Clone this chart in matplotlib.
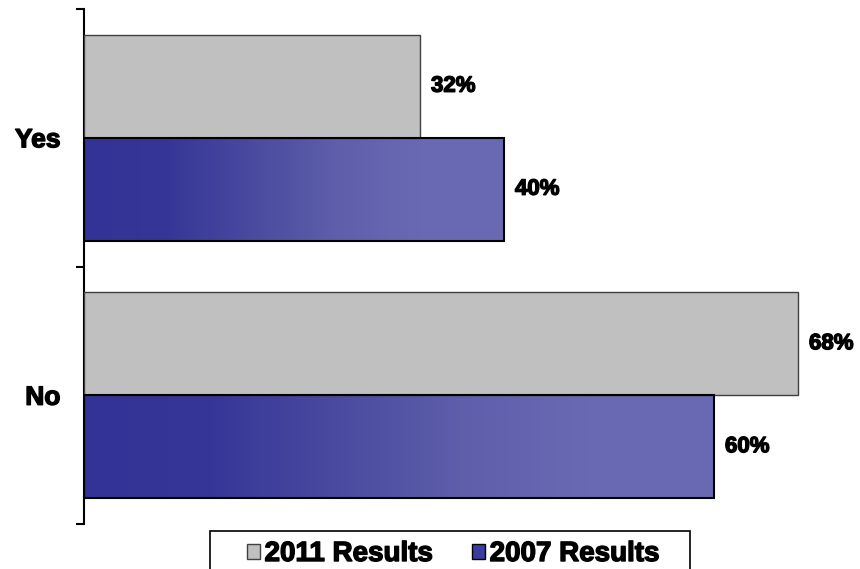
import numpy as np
import matplotlib
matplotlib.use('Agg')
import matplotlib.pyplot as plt
import matplotlib.patheffects as pe
from matplotlib.colors import LinearSegmentedColormap
from matplotlib.patches import Patch, Rectangle

categories = ['Yes', 'No']
results_2011 = [32, 68]
results_2007 = [40, 60]
series_labels = ['2011 Results', '2007 Results']

plt.rcParams['font.family'] = ['Liberation Sans', 'DejaVu Sans']
plt.rcParams['font.weight'] = 'bold'

heavy = [pe.withStroke(linewidth=1.0, foreground='black')]

fig = plt.figure(figsize=(8.6, 5.69), dpi=100)
ax = fig.add_axes([84 / 860, 1 - 524 / 569, 735 / 860, 515 / 569])

ypos = np.arange(len(categories))[::-1]  # Yes on top
h = 0.4

gray_bars = ax.barh(ypos + h / 2, results_2011, height=h, color='#c0c0c0',
                    edgecolor='#404040', linewidth=1.0, zorder=3)
blue_bars = ax.barh(ypos - h / 2, results_2007, height=h, facecolor='none',
                    edgecolor='black', linewidth=1.5, zorder=4)

# horizontal gradient fill for the 2007 bars
blue_cmap = LinearSegmentedColormap.from_list(
    'blues', ['#333397', '#363698', '#4a4aa0', '#5e5eab', '#6969b3', '#6a6ab4'])
grad = np.linspace(0, 1, 256).reshape(1, -1)
for bar in blue_bars:
    x0, y0 = bar.get_x(), bar.get_y()
    im = ax.imshow(grad, cmap=blue_cmap, aspect='auto', zorder=2,
                   extent=(x0, x0 + bar.get_width(), y0, y0 + bar.get_height()))
    im.set_clip_path(bar)

for bars, vals in ((gray_bars, results_2011), (blue_bars, results_2007)):
    for bar, v in zip(bars, vals):
        ax.annotate(f'{v}%', (bar.get_width(), bar.get_y() + bar.get_height() / 2),
                    xytext=(11, 0), textcoords='offset pixels', va='center', ha='left',
                    fontsize=16, fontweight='bold', annotation_clip=False,
                    path_effects=heavy)

ax.set_xlim(0, 70)
ax.set_ylim(-0.5, 1.5)

for s in ('top', 'right', 'bottom'):
    ax.spines[s].set_visible(False)
ax.spines['left'].set_linewidth(1.5)
ax.set_xticks([])

ax.set_yticks([-0.5, 0.5, 1.5])
ax.set_yticklabels([])
ax.tick_params(axis='y', which='major', length=6, width=1.5)
ax.set_yticks(ypos, minor=True)
ax.set_yticklabels(categories, minor=True, fontsize=19, fontweight='bold')
ax.tick_params(axis='y', which='minor', length=0, pad=17)
for lbl in ax.get_yticklabels(minor=True):
    lbl.set_path_effects(heavy)

handles = [Patch(facecolor='#c0c0c0', edgecolor='#404040', linewidth=1.0),
           Patch(facecolor='#3c3c9c', edgecolor='black', linewidth=1.0)]
leg = fig.legend(handles, series_labels, loc='center',
                 bbox_to_anchor=(453 / 860, 1 - 554 / 569), ncol=2,
                 frameon=False, prop={'size': 20, 'weight': 'bold'},
                 handlelength=0.5, handleheight=0.45, handletextpad=0.15,
                 columnspacing=1.4, borderpad=0, borderaxespad=0)
for t in leg.get_texts():
    t.set_path_effects(heavy)

# legend frame, running off the bottom edge
fig.patches.append(Rectangle((210 / 860, -0.05), 480 / 860, 0.05 + 1 - 531 / 569,
                             transform=fig.transFigure, facecolor='none',
                             edgecolor='black', linewidth=1.2))

fig.savefig('out.png', dpi=100)
